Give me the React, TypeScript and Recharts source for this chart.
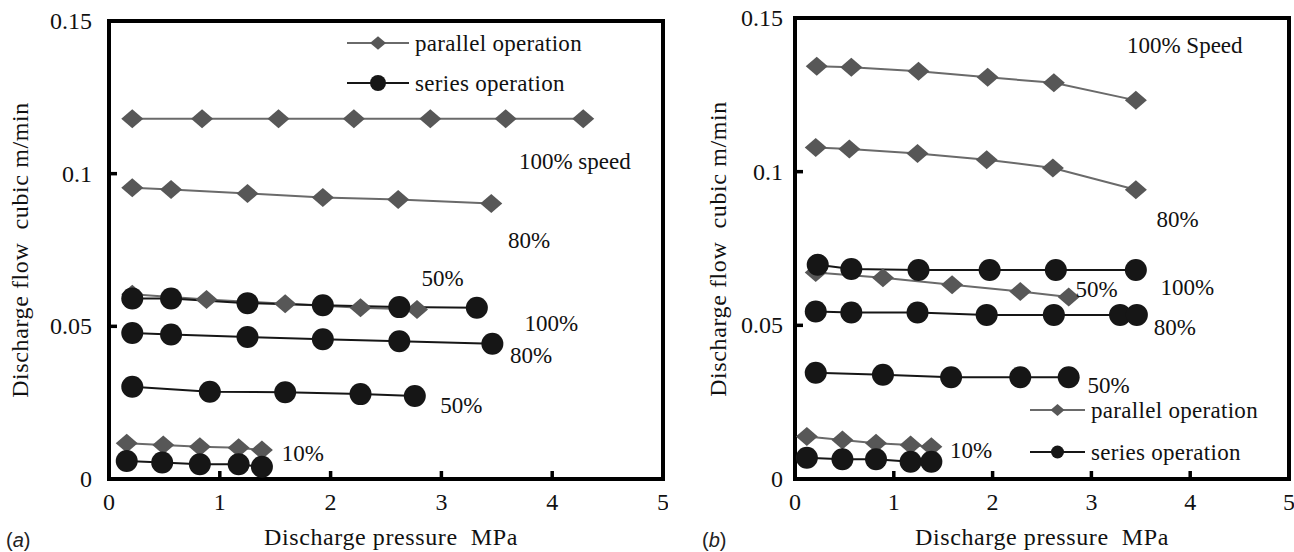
import React from 'react';
import { LineChart, Line, XAxis, YAxis, ReferenceArea, ReferenceDot } from 'recharts';

// ---------- data: panel (a) ----------
const aPar100X = [0.21, 0.84, 1.53, 2.21, 2.9, 3.58, 4.28];
const aPar100Y = [0.118, 0.118, 0.118, 0.118, 0.118, 0.118, 0.118];
const aPar80X = [0.21, 0.56, 1.25, 1.93, 2.61, 3.45];
const aPar80Y = [0.0954, 0.0948, 0.0935, 0.0922, 0.0915, 0.0902];
const aPar50X = [0.21, 0.88, 1.59, 2.27, 2.78];
const aPar50Y = [0.0605, 0.0588, 0.0574, 0.0561, 0.0555];
const aPar10X = [0.16, 0.49, 0.82, 1.17, 1.38];
const aPar10Y = [0.0117, 0.0111, 0.0106, 0.0102, 0.0095];
const aSer100X = [0.21, 0.56, 1.25, 1.93, 2.62, 3.32];
const aSer100Y = [0.0591, 0.0591, 0.0576, 0.0569, 0.0563, 0.0561];
const aSer80X = [0.21, 0.56, 1.25, 1.93, 2.62, 3.46];
const aSer80Y = [0.0478, 0.0473, 0.0465, 0.0458, 0.0451, 0.0443];
const aSer50X = [0.21, 0.91, 1.59, 2.27, 2.76];
const aSer50Y = [0.0302, 0.0286, 0.0284, 0.0278, 0.0272];
const aSer10X = [0.16, 0.48, 0.82, 1.17, 1.38];
const aSer10Y = [0.0059, 0.0054, 0.0048, 0.0048, 0.004];

// ---------- data: panel (b) ----------
const bPar100X = [0.22, 0.57, 1.25, 1.95, 2.62, 3.45];
const bPar100Y = [0.1343, 0.134, 0.1327, 0.1307, 0.1289, 0.1232];
const bPar80X = [0.21, 0.55, 1.24, 1.94, 2.61, 3.45];
const bPar80Y = [0.1079, 0.1074, 0.1059, 0.1039, 0.1012, 0.0941];
const bPar50X = [0.21, 0.89, 1.59, 2.28, 2.77];
const bPar50Y = [0.0672, 0.0655, 0.0632, 0.061, 0.0592];
const bPar10X = [0.12, 0.48, 0.82, 1.17, 1.38];
const bPar10Y = [0.0138, 0.0127, 0.0116, 0.0111, 0.0105];
const bSer100X = [0.23, 0.57, 1.25, 1.97, 2.64, 3.45];
const bSer100Y = [0.0697, 0.0683, 0.068, 0.068, 0.068, 0.068];
const bSer80X = [0.21, 0.57, 1.24, 1.94, 2.62, 3.29, 3.46];
const bSer80Y = [0.0545, 0.0542, 0.0542, 0.0534, 0.0534, 0.0534, 0.0534];
const bSer50X = [0.21, 0.89, 1.58, 2.28, 2.77];
const bSer50Y = [0.0346, 0.0339, 0.0331, 0.0331, 0.0331];
const bSer10X = [0.12, 0.48, 0.82, 1.17, 1.38];
const bSer10Y = [0.0069, 0.0064, 0.0064, 0.0056, 0.0056];

// ---------- axes ----------
const xTicks = [0, 1, 2, 3, 4, 5];
const yTicks = [0, 0.05, 0.1, 0.15];
const xTitle = 'Discharge pressure  MPa';
const yTitle = 'Discharge flow  cubic m/min';
const legendNames = ['parallel operation', 'series operation'];

// ---------- annotations (data coordinates) ----------
const aNotes = [
  { t: '100% speed', x: 3.7, y: 0.104 },
  { t: '80%', x: 3.6, y: 0.078 },
  { t: '50%', x: 2.82, y: 0.0657 },
  { t: '100%', x: 3.75, y: 0.0508 },
  { t: '80%', x: 3.62, y: 0.0403 },
  { t: '50%', x: 2.99, y: 0.0242 },
  { t: '10%', x: 1.56, y: 0.0085 },
];
const bNotes = [
  { t: '100% Speed', x: 3.36, y: 0.1412 },
  { t: '80%', x: 3.66, y: 0.0843 },
  { t: '50%', x: 2.84, y: 0.0617 },
  { t: '100%', x: 3.7, y: 0.0622 },
  { t: '80%', x: 3.63, y: 0.0492 },
  { t: '50%', x: 2.96, y: 0.0304 },
  { t: '10%', x: 1.57, y: 0.0094 },
];

const pts = (xs: number[], ys: number[]) => xs.map((x, i) => ({ x, y: ys[i] }));

const FONT = '"Liberation Serif", "Times New Roman", serif';
const PAR_COLOR = '#575757';
const PAR_LINE = '#6a6a6a';
const SER_COLOR = '#161616';
const TEXT_COLOR = '#111';

const diamondDot = (p: any) => {
  const { cx, cy, index } = p;
  if (cx == null || cy == null) return <g key={`dd-${index}`} />;
  const w = 11, h = 9.5;
  return (
    <path
      key={`dd-${index}-${cx}`}
      d={`M${cx},${cy - h} L${cx + w},${cy} L${cx},${cy + h} L${cx - w},${cy} Z`}
      fill={PAR_COLOR}
      stroke="none"
    />
  );
};

const circleDot = (p: any) => {
  const { cx, cy, index } = p;
  if (cx == null || cy == null) return <g key={`cd-${index}`} />;
  return <circle key={`cd-${index}-${cx}`} cx={cx} cy={cy} r={11} fill={SER_COLOR} stroke="none" />;
};

const noteShape = (t: string) => (p: any) => (
  <text
    x={p.cx}
    y={p.cy}
    dominantBaseline="central"
    style={{ fontFamily: FONT, fontSize: 23, fill: TEXT_COLOR }}
  >
    {t}
  </text>
);

const XTick = (p: any) => (
  <text
    x={p.x}
    y={p.y}
    textAnchor="middle"
    dominantBaseline="central"
    style={{ fontFamily: FONT, fontSize: 24, fill: TEXT_COLOR }}
  >
    {String(p.payload.value)}
  </text>
);

const YTick = (p: any) => (
  <text
    x={p.x}
    y={p.y}
    textAnchor="end"
    dominantBaseline="central"
    style={{ fontFamily: FONT, fontSize: 24, fill: TEXT_COLOR }}
  >
    {String(p.payload.value)}
  </text>
);

const LegendBox = ({ rowGap, lineW, dw, cr }: { rowGap: number; lineW: number; dw: number; cr: number }) => (
  <div style={{ fontFamily: FONT, fontSize: 23, color: TEXT_COLOR, lineHeight: 1 }}>
    {legendNames.map((name, i) => (
      <div key={name} style={{ display: 'flex', alignItems: 'center', height: rowGap }}>
        <svg width={lineW} height={24} style={{ display: 'block' }}>
          <line x1={0} y1={12} x2={lineW} y2={12} stroke={i === 0 ? PAR_LINE : SER_COLOR} strokeWidth={2} />
          {i === 0 ? (
            <path
              d={`M${lineW / 2},${12 - dw * 0.85} L${lineW / 2 + dw},12 L${lineW / 2},${12 + dw * 0.85} L${lineW / 2 - dw},12 Z`}
              fill={PAR_COLOR}
            />
          ) : (
            <circle cx={lineW / 2} cy={12} r={cr} fill={SER_COLOR} />
          )}
        </svg>
        <span style={{ marginLeft: 6, whiteSpace: 'pre', letterSpacing: 0.3 }}>{name}</span>
      </div>
    ))}
  </div>
);

type Panel = {
  par: { x: number; y: number }[][];
  ser: { x: number; y: number }[][];
  notes: { t: string; x: number; y: number }[];
  width: number;
  margin: { top: number; right: number; bottom: number; left: number };
  yTickMargin: number;
};

const Chart = ({ par, ser, notes, width, margin, yTickMargin }: Panel) => (
  <LineChart width={width} height={552} margin={margin}>
    <XAxis
      type="number"
      dataKey="x"
      domain={[0, 5]}
      ticks={xTicks}
      allowDataOverflow
      axisLine={false}
      tickSize={-8}
      tickMargin={31}
      tickLine={{ stroke: '#000', strokeWidth: 3.5 }}
      tick={<XTick />}
      interval={0}
    />
    <YAxis
      type="number"
      dataKey="y"
      domain={[0, 0.15]}
      ticks={yTicks}
      allowDataOverflow
      axisLine={false}
      tickSize={-8}
      tickMargin={yTickMargin}
      tickLine={{ stroke: '#000', strokeWidth: 3.5 }}
      tick={<YTick />}
      interval={0}
      width={60}
    />
    <ReferenceArea x1={0} x2={5} y1={0} y2={0.15} fill="none" stroke="#000" strokeWidth={4} ifOverflow="visible" />
    {par.map((d, i) => (
      <Line
        key={`p${i}`}
        data={d}
        dataKey="y"
        type="linear"
        stroke={PAR_LINE}
        strokeWidth={2}
        dot={diamondDot}
        activeDot={false}
        isAnimationActive={false}
        legendType="none"
      />
    ))}
    {ser.map((d, i) => (
      <Line
        key={`s${i}`}
        data={d}
        dataKey="y"
        type="linear"
        stroke={SER_COLOR}
        strokeWidth={2}
        dot={circleDot}
        activeDot={false}
        isAnimationActive={false}
        legendType="none"
      />
    ))}
    {notes.map((n, i) => (
      <ReferenceDot key={`n${i}`} x={n.x} y={n.y} r={0} shape={noteShape(n.t)} ifOverflow="visible" />
    ))}
  </LineChart>
);

const titleStyle: React.CSSProperties = {
  position: 'absolute',
  fontFamily: FONT,
  fontSize: 24,
  color: TEXT_COLOR,
  whiteSpace: 'pre',
  lineHeight: 1,
  letterSpacing: 0.6,
};

export default function App() {
  return (
    <div style={{ position: 'absolute', left: 0, top: 0, width: 1294, height: 552, background: '#fff', overflow: 'hidden' }}>
      <div style={{ position: 'absolute', left: 0, top: 0 }}>
        <Chart
          par={[pts(aPar100X, aPar100Y), pts(aPar80X, aPar80Y), pts(aPar50X, aPar50Y), pts(aPar10X, aPar10Y)]}
          ser={[pts(aSer100X, aSer100Y), pts(aSer80X, aSer80Y), pts(aSer50X, aSer50Y), pts(aSer10X, aSer10Y)]}
          notes={aNotes}
          width={668}
          margin={{ top: 21, right: 5, bottom: 43, left: 49 }}
          yTickMargin={25}
        />
      </div>
      <div style={{ position: 'absolute', left: 668, top: 0 }}>
        <Chart
          par={[pts(bPar100X, bPar100Y), pts(bPar80X, bPar80Y), pts(bPar50X, bPar50Y), pts(bPar10X, bPar10Y)]}
          ser={[pts(bSer100X, bSer100Y), pts(bSer80X, bSer80Y), pts(bSer50X, bSer50Y), pts(bSer10X, bSer10Y)]}
          notes={bNotes}
          width={626}
          margin={{ top: 18, right: 5, bottom: 43, left: 67 }}
          yTickMargin={20}
        />
      </div>
      {/* legends */}
      <div style={{ position: 'absolute', left: 347, top: 23 }}>
        <LegendBox rowGap={40} lineW={62} dw={8} cr={8} />
      </div>
      <div style={{ position: 'absolute', left: 1030, top: 389 }}>
        <LegendBox rowGap={42} lineW={55} dw={7} cr={6.5} />
      </div>
      {/* axis titles */}
      <div style={{ ...titleStyle, left: 391, top: 537, transform: 'translate(-50%, -50%)' }}>{xTitle}</div>
      <div style={{ ...titleStyle, left: 1042, top: 537, transform: 'translate(-50%, -50%)' }}>{xTitle}</div>
      <div style={{ ...titleStyle, left: 20, top: 250, transform: 'translate(-50%, -50%) rotate(-90deg)' }}>{yTitle}</div>
      <div style={{ ...titleStyle, left: 718, top: 249, transform: 'translate(-50%, -50%) rotate(-90deg)' }}>{yTitle}</div>
      <div style={{ position: 'absolute', left: 6, top: 530, fontFamily: 'Arial, "Liberation Sans", sans-serif', fontSize: 20, color: '#222', lineHeight: 1 }}>
        (<i>a</i>)
      </div>
      <div style={{ position: 'absolute', left: 702, top: 530, fontFamily: 'Arial, "Liberation Sans", sans-serif', fontSize: 20, color: '#222', lineHeight: 1 }}>
        (<i>b</i>)
      </div>
    </div>
  );
}
